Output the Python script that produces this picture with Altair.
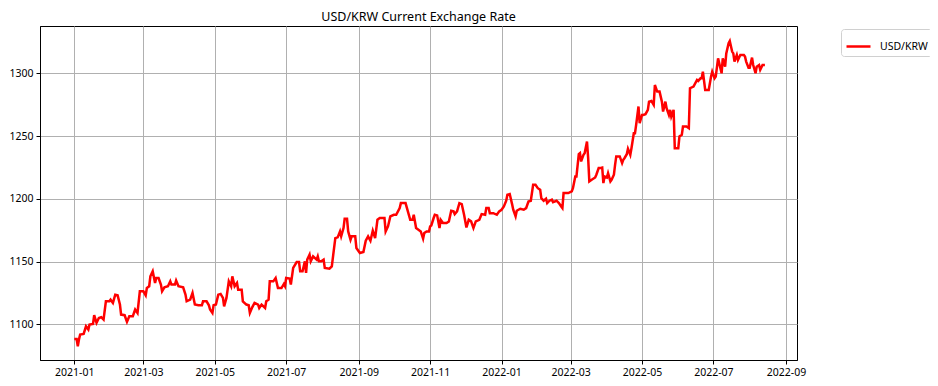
import altair as alt
import pandas as pd

# ---- data ----
dates_2021 = [
    "2021-01-01", "2021-01-03", "2021-01-04", "2021-01-05", "2021-01-06", "2021-01-09", "2021-01-11",
    "2021-01-13", "2021-01-14", "2021-01-17", "2021-01-18", "2021-01-20", "2021-01-22", "2021-01-24",
    "2021-01-26", "2021-01-28", "2021-01-31",
    "2021-02-01", "2021-02-03", "2021-02-05", "2021-02-07", "2021-02-09", "2021-02-10", "2021-02-13",
    "2021-02-15", "2021-02-17", "2021-02-20", "2021-02-22", "2021-02-24", "2021-02-26",
    "2021-03-01", "2021-03-03", "2021-03-04", "2021-03-06", "2021-03-07", "2021-03-09", "2021-03-11",
    "2021-03-12", "2021-03-14", "2021-03-16", "2021-03-17", "2021-03-19", "2021-03-22", "2021-03-24",
    "2021-03-25", "2021-03-28", "2021-03-29", "2021-03-31",
    "2021-04-04", "2021-04-06", "2021-04-07", "2021-04-10", "2021-04-12", "2021-04-14", "2021-04-17",
    "2021-04-20", "2021-04-21", "2021-04-24", "2021-04-26", "2021-04-27", "2021-04-29", "2021-04-30",
    "2021-05-02", "2021-05-04", "2021-05-06", "2021-05-08", "2021-05-09", "2021-05-11", "2021-05-13",
    "2021-05-15", "2021-05-16", "2021-05-18", "2021-05-20", "2021-05-21", "2021-05-24", "2021-05-25",
    "2021-05-28", "2021-05-30", "2021-05-31",
    "2021-06-02", "2021-06-04", "2021-06-07", "2021-06-08", "2021-06-10", "2021-06-13", "2021-06-14",
    "2021-06-16", "2021-06-17", "2021-06-20", "2021-06-22", "2021-06-24", "2021-06-27", "2021-06-29",
    "2021-06-30",
    "2021-07-01", "2021-07-04", "2021-07-05", "2021-07-07", "2021-07-10", "2021-07-12", "2021-07-13",
    "2021-07-15", "2021-07-17", "2021-07-18", "2021-07-19", "2021-07-21", "2021-07-22", "2021-07-24",
    "2021-07-27", "2021-07-28", "2021-07-29", "2021-07-31",
    "2021-08-02", "2021-08-03", "2021-08-07", "2021-08-09", "2021-08-12", "2021-08-14", "2021-08-16",
    "2021-08-17", "2021-08-19", "2021-08-20", "2021-08-22", "2021-08-23", "2021-08-25", "2021-08-26",
    "2021-08-29", "2021-08-30",
    "2021-09-02", "2021-09-05", "2021-09-07", "2021-09-09", "2021-09-11", "2021-09-13", "2021-09-15",
    "2021-09-17", "2021-09-19", "2021-09-23", "2021-09-24", "2021-09-26", "2021-09-28",
    "2021-10-01", "2021-10-03", "2021-10-06", "2021-10-07", "2021-10-11", "2021-10-15", "2021-10-17",
    "2021-10-18", "2021-10-20", "2021-10-22", "2021-10-24", "2021-10-26", "2021-10-27", "2021-10-29",
    "2021-10-31",
    "2021-11-01", "2021-11-02", "2021-11-04", "2021-11-05", "2021-11-07", "2021-11-09", "2021-11-10",
    "2021-11-12", "2021-11-15", "2021-11-17", "2021-11-19", "2021-11-21", "2021-11-22", "2021-11-24",
    "2021-11-26", "2021-11-28", "2021-11-30",
    "2021-12-02", "2021-12-04", "2021-12-06", "2021-12-08", "2021-12-10", "2021-12-13", "2021-12-15",
    "2021-12-18", "2021-12-19", "2021-12-21", "2021-12-22", "2021-12-25", "2021-12-28", "2021-12-30",
]
values_2021 = [
    1088.3, 1088.3, 1082.5, 1087.8, 1091.8, 1092.3, 1098.4, 1095.8, 1099.7, 1100.3, 1107.2, 1101.1,
    1105.0, 1105.6, 1103.7, 1118.3, 1118.3,
    1119.6, 1117.0, 1123.6, 1123.1, 1115.7, 1107.7, 1107.2, 1101.9, 1106.4, 1106.4, 1111.7, 1109.0, 1126.3,
    1126.3, 1123.1, 1128.9, 1130.3, 1138.2, 1142.2, 1132.9, 1136.9, 1136.9, 1131.6, 1126.3, 1129.5,
    1130.3, 1134.2, 1131.6, 1131.6, 1134.8, 1130.3,
    1129.5, 1123.6, 1118.3, 1119.6, 1124.9, 1115.7, 1115.1, 1115.1, 1118.3, 1118.3, 1115.1, 1111.7,
    1109.0, 1115.1,
    1115.7, 1123.6, 1124.2, 1121.0, 1114.3, 1121.0, 1134.2, 1130.3, 1138.2, 1130.3, 1132.9, 1127.6,
    1127.6, 1118.3, 1115.7, 1115.1, 1109.0,
    1113.5, 1117.0, 1115.7, 1113.0, 1115.7, 1113.0, 1118.3, 1119.6, 1134.2, 1134.2, 1136.9, 1128.9,
    1128.9, 1132.1, 1130.3,
    1136.9, 1136.4, 1131.6, 1144.9, 1149.6, 1149.6, 1142.2, 1142.2, 1150.2, 1140.9, 1151.5, 1155.5,
    1150.2, 1154.1, 1151.5, 1154.1, 1150.2, 1150.2,
    1151.5, 1144.9, 1144.3, 1146.2, 1168.7, 1169.3, 1174.0, 1170.1, 1176.7, 1184.1, 1184.1, 1174.0,
    1167.4, 1170.1, 1170.1, 1160.8,
    1156.8, 1157.6, 1166.6, 1170.1, 1166.6, 1174.6, 1168.7, 1183.3, 1184.7, 1184.7, 1174.0, 1178.0, 1186.0,
    1187.3, 1187.3, 1192.6, 1196.6, 1196.6, 1183.3, 1183.3, 1187.3, 1176.7, 1175.4, 1174.0, 1168.2,
    1172.7, 1174.0, 1174.0,
    1178.0, 1178.8, 1184.7, 1187.3, 1186.8, 1176.7, 1183.3, 1180.7, 1180.7, 1182.0, 1190.5, 1190.0,
    1187.8, 1190.0, 1196.6, 1195.8, 1187.3,
    1177.2, 1183.3, 1182.0, 1176.7, 1182.0, 1183.3, 1187.8, 1187.3, 1192.6, 1192.6, 1188.6, 1188.6,
    1187.3, 1190.0,
]

dates_2022 = [
    "2022-01-01", "2022-01-03", "2022-01-05", "2022-01-06", "2022-01-08", "2022-01-10", "2022-01-11",
    "2022-01-13", "2022-01-14", "2022-01-17", "2022-01-20", "2022-01-22", "2022-01-24", "2022-01-26",
    "2022-01-28", "2022-01-30",
    "2022-02-01", "2022-02-03", "2022-02-04", "2022-02-06", "2022-02-08", "2022-02-09", "2022-02-11",
    "2022-02-13", "2022-02-14", "2022-02-17", "2022-02-19", "2022-02-21", "2022-02-22", "2022-02-23",
    "2022-02-27",
    "2022-03-02", "2022-03-03", "2022-03-05", "2022-03-06", "2022-03-08", "2022-03-09", "2022-03-10",
    "2022-03-12", "2022-03-13", "2022-03-15", "2022-03-16", "2022-03-17", "2022-03-19", "2022-03-22",
    "2022-03-23", "2022-03-25", "2022-03-26", "2022-03-28", "2022-03-29", "2022-03-30",
    "2022-04-01", "2022-04-02", "2022-04-04", "2022-04-05", "2022-04-07", "2022-04-08", "2022-04-09",
    "2022-04-12", "2022-04-14", "2022-04-15", "2022-04-16", "2022-04-18", "2022-04-19", "2022-04-21",
    "2022-04-22", "2022-04-24", "2022-04-25", "2022-04-26", "2022-04-28", "2022-04-29",
    "2022-05-01", "2022-05-02", "2022-05-04", "2022-05-06", "2022-05-07", "2022-05-09", "2022-05-11",
    "2022-05-12", "2022-05-14", "2022-05-15", "2022-05-16", "2022-05-18", "2022-05-19", "2022-05-21",
    "2022-05-22", "2022-05-24", "2022-05-25", "2022-05-26", "2022-05-28", "2022-05-29",
    "2022-06-01", "2022-06-02", "2022-06-04", "2022-06-05", "2022-06-08", "2022-06-10", "2022-06-11",
    "2022-06-14", "2022-06-17", "2022-06-18", "2022-06-20", "2022-06-21", "2022-06-22", "2022-06-24",
    "2022-06-27", "2022-06-29", "2022-06-30",
    "2022-07-02", "2022-07-03", "2022-07-05", "2022-07-07", "2022-07-08", "2022-07-09", "2022-07-11",
    "2022-07-12", "2022-07-14", "2022-07-15", "2022-07-17", "2022-07-18", "2022-07-19", "2022-07-21",
    "2022-07-22", "2022-07-24", "2022-07-27", "2022-07-28", "2022-07-29", "2022-07-31",
    "2022-08-01", "2022-08-03", "2022-08-04", "2022-08-06", "2022-08-07", "2022-08-09", "2022-08-10",
    "2022-08-12", "2022-08-14",
]
values_2022 = [
    1191.3, 1193.9, 1198.5, 1203.2, 1203.8, 1195.8, 1191.3, 1186.0, 1190.5, 1192.1, 1191.3, 1192.6,
    1197.9, 1198.5, 1211.2, 1211.2,
    1208.5, 1207.2, 1200.6, 1198.5, 1200.1, 1196.6, 1198.5, 1199.3, 1197.4, 1198.5, 1196.6, 1193.9,
    1192.6, 1204.6, 1204.6,
    1205.9, 1208.5, 1217.8, 1217.8, 1235.6, 1236.4, 1229.8, 1235.1, 1236.4, 1245.7, 1232.4, 1213.9,
    1215.2, 1217.0, 1219.2, 1224.5, 1224.5, 1225.0, 1212.5, 1217.8,
    1217.0, 1220.5, 1213.9, 1215.2, 1219.2, 1227.1, 1233.8, 1233.8, 1228.5, 1231.1, 1232.4, 1235.6,
    1239.9, 1235.1, 1240.4, 1252.3, 1252.3, 1259.0, 1273.6, 1260.3,
    1266.9, 1266.9, 1267.5, 1270.9, 1277.5, 1278.1, 1274.9, 1290.8, 1285.5, 1285.5, 1285.5, 1277.5,
    1269.6, 1277.5, 1272.2, 1266.9, 1270.9, 1265.6, 1270.9, 1240.4,
    1240.4, 1249.7, 1251.0, 1257.6, 1257.6, 1256.3, 1288.2, 1289.5, 1294.8, 1294.0, 1296.1, 1296.1,
    1301.4, 1286.8, 1286.8, 1297.5, 1301.4,
    1296.1, 1297.5, 1312.0, 1304.1, 1300.1, 1312.0, 1305.4, 1316.0, 1324.0, 1325.8, 1317.4, 1316.0,
    1309.4, 1314.7, 1310.7, 1314.7, 1314.7, 1313.4, 1309.4, 1304.6,
    1304.6, 1312.6, 1306.7, 1300.1, 1305.4, 1306.7, 1302.8, 1306.7, 1306.7,
]

series_name = "USD/KRW"
title_text = "USD/KRW Current Exchange Rate"
y_ticks = [1100, 1150, 1200, 1250, 1300]
x_tick_months = [(2021, 1), (2021, 3), (2021, 5), (2021, 7), (2021, 9), (2021, 11),
                 (2022, 1), (2022, 3), (2022, 5), (2022, 7), (2022, 9)]

df = pd.DataFrame({
    "date": dates_2021 + dates_2022,
    "rate": values_2021 + values_2022,
})
df["series"] = series_name

FONT = "Noto Sans"

x_values = [alt.DateTime(year=y, month=m, date=1, utc=True) for (y, m) in x_tick_months]

chart = alt.Chart(df).mark_line(color="#ff0000", strokeWidth=2.5, clip=True).encode(
    x=alt.X(
        "date:T",
        scale=alt.Scale(
            type="utc",
            domain=[alt.DateTime(year=2020, month=12, date=2, hours=17, utc=True),
                    alt.DateTime(year=2022, month=9, date=10, hours=10, utc=True)],
            nice=False,
        ),
        axis=alt.Axis(values=x_values, labelExpr="utcFormat(datum.value, '%Y-%m')", title=None,
                      labelFlush=False, labelOverlap=False),
    ),
    y=alt.Y(
        "rate:Q",
        scale=alt.Scale(domain=[1071.5, 1337.8], nice=False, zero=False),
        axis=alt.Axis(values=y_ticks, title=None, format="d"),
    ),
    color=alt.Color(
        "series:N",
        scale=alt.Scale(domain=[series_name], range=["#ff0000"]),
        legend=alt.Legend(
            title=None, orient="none", legendX=801, legendY=3,
            symbolType="stroke", symbolSize=576, symbolStrokeWidth=2.5,
            strokeColor="#d0d0d0", fillColor="white", cornerRadius=3, padding=4,
            labelFont=FONT, labelFontSize=10.5, labelColor="black", labelOffset=8,
        ),
    ),
).properties(
    width=757,
    height=334,
    title=alt.TitleParams(title_text, font=FONT, fontSize=12.5, fontWeight="normal",
                          color="black", offset=3),
    autosize=alt.AutoSizeParams(type="none"),
    padding={"left": 32, "top": 18, "right": 133, "bottom": 18},
).configure_view(
    stroke="black", strokeWidth=1,
).configure_axis(
    labelFont=FONT, labelFontSize=10.5, labelColor="black",
    tickColor="black", tickSize=4, tickWidth=1, labelPadding=3,
    domainColor="black", domainWidth=1,
    grid=True, gridColor="#b0b0b0", gridWidth=1,
)

chart.save("out.html", embed_options={"renderer": "svg", "actions": False})
